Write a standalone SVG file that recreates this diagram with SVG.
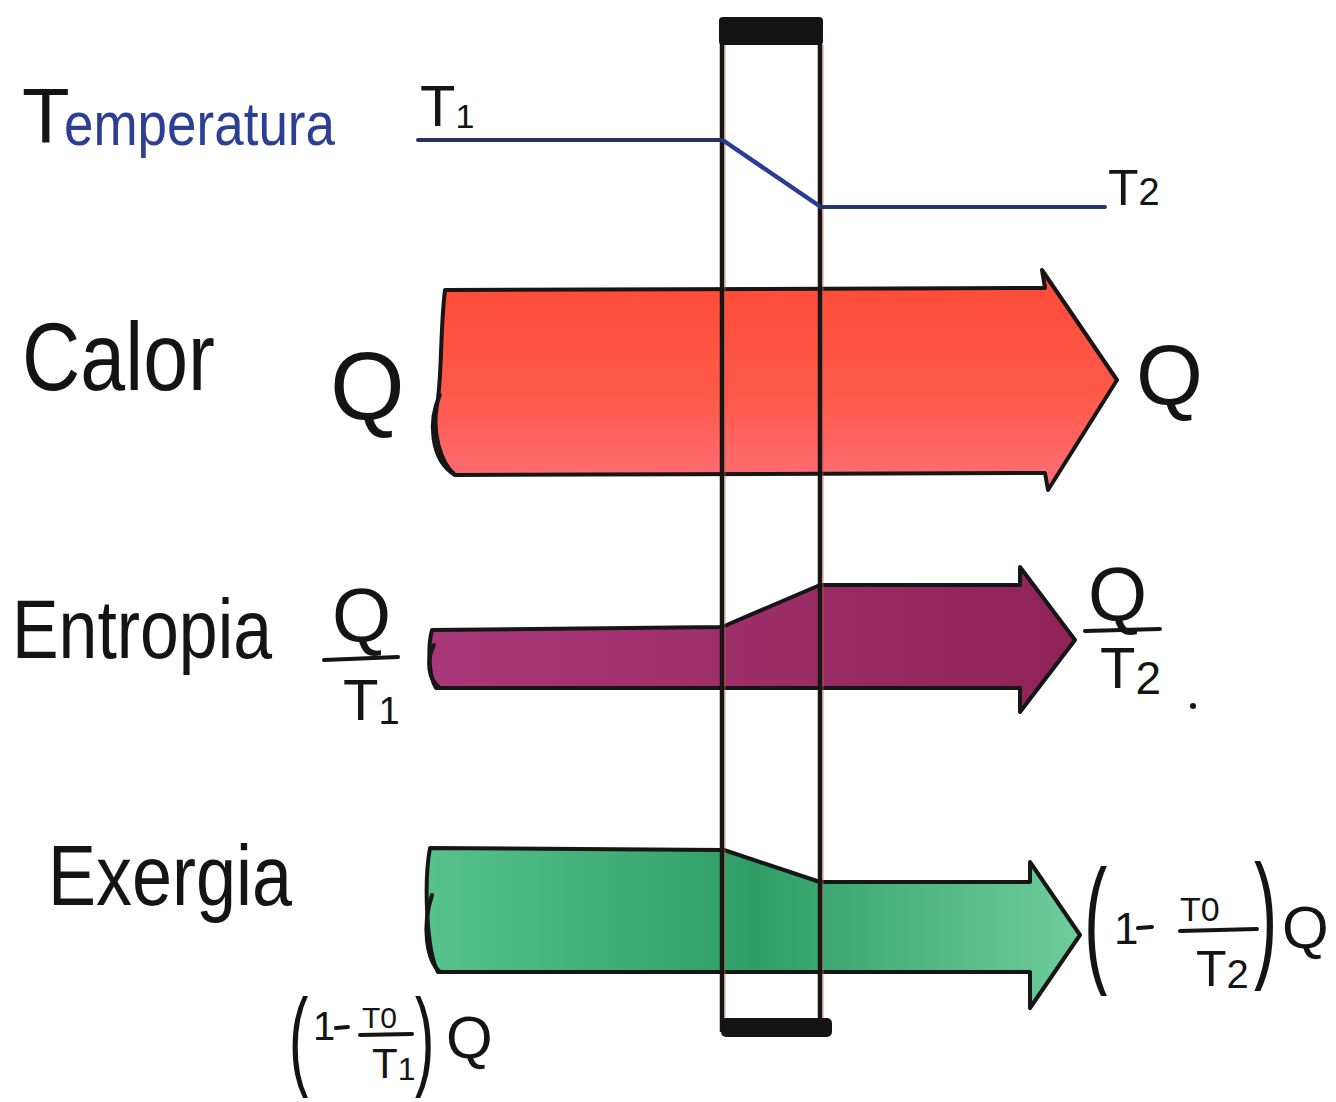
<svg xmlns="http://www.w3.org/2000/svg" width="1336" height="1102" viewBox="0 0 1336 1102">
<defs>
<style>
.hw{font-family:"Liberation Sans","DejaVu Sans",sans-serif;fill:#141414;}
.blue{fill:#2c3f94;}
.outline{stroke:#161616;stroke-width:4;stroke-linejoin:round;stroke-linecap:round;}
.wall{stroke:#1a1414;stroke-width:4.5;fill:none;}
.bar{stroke:#141414;stroke-width:4;stroke-linecap:round;}
</style>
<linearGradient id="gRed" x1="0" y1="0" x2="0" y2="1">
<stop offset="0" stop-color="#ff4a36"/>
<stop offset="0.6" stop-color="#ff5a4c"/>
<stop offset="1" stop-color="#ff6f78"/>
</linearGradient>
<linearGradient id="gPurple" x1="0" y1="0" x2="1" y2="0">
<stop offset="0" stop-color="#a93878"/>
<stop offset="1" stop-color="#8f2358"/>
</linearGradient>
<linearGradient id="gGreen" x1="0" y1="0" x2="1" y2="0">
<stop offset="0" stop-color="#57c28c"/>
<stop offset="0.5" stop-color="#2f9e66"/>
<stop offset="1" stop-color="#6fcd9c"/>
</linearGradient>
</defs>
<rect width="1336" height="1102" fill="#ffffff"/>

<!-- Row labels -->
<g id="label-temperatura">
<text class="hw" x="22" y="143" font-size="78">T</text>
<text class="hw blue" x="64" y="145" font-size="62" textLength="271" lengthAdjust="spacingAndGlyphs">emperatura</text>
</g>
<g id="label-calor">
<text class="hw" x="22" y="390" font-size="96" textLength="193" lengthAdjust="spacingAndGlyphs">Calor</text>
</g>
<g id="label-entropia">
<text class="hw" x="12" y="658" font-size="84" textLength="260" lengthAdjust="spacingAndGlyphs">Entropia</text>
</g>
<g id="label-exergia">
<text class="hw" x="48" y="905" font-size="86" textLength="244" lengthAdjust="spacingAndGlyphs">Exergia</text>
</g>

<!-- Heat arrow -->
<g id="arrow-calor">
<path class="outline" fill="url(#gRed)" d="M445,290 L1045,288 L1042,270 L1117,380 L1048,490 L1045,473 L455,475 C440,462 432,432 437,405 C442,380 440,330 445,290 Z"/>
<path class="outline" fill="none" d="M440,395 C428,420 430,460 455,475"/>
</g>

<!-- Entropy arrow -->
<g id="arrow-entropia">
<path class="outline" fill="url(#gPurple)" d="M432,630 L722,627 L820,585 L1020,585 L1020,567 L1075,640 L1020,712 L1020,688 L436,688 C428,675 428,645 432,630 Z"/>
<path class="outline" fill="none" d="M434,645 C426,660 428,680 440,688"/>
</g>

<!-- Exergy arrow -->
<g id="arrow-exergia">
<path class="outline" fill="url(#gGreen)" d="M430,848 L724,850 L820,882 L1030,882 L1030,862 L1080,935 L1030,1008 L1030,972 L438,972 C426,950 424,880 430,848 Z"/>
<path class="outline" fill="none" d="M432,895 C422,925 426,960 440,972"/>
</g>

<!-- Wall -->
<g id="wall">
<line class="wall" x1="722" y1="20" x2="722" y2="1032"/>
<line class="wall" x1="820" y1="20" x2="820" y2="1032"/>
<line x1="725" y1="45" x2="725" y2="1020" stroke="#b86a50" stroke-width="1.2" opacity="0.6"/>
<line x1="823" y1="45" x2="823" y2="1020" stroke="#b86a50" stroke-width="1.2" opacity="0.6"/>
<rect x="719" y="17" width="104" height="28" rx="4" fill="#141414"/>
<rect x="721" y="1018" width="111" height="19" rx="5" fill="#141414"/>
</g>

<!-- Temperature profile -->
<g id="temperature-line" fill="none" stroke-linecap="round">
<line x1="418" y1="140" x2="722" y2="140" stroke="#253266" stroke-width="4"/>
<line x1="724" y1="141" x2="818" y2="205" stroke="#2a3d96" stroke-width="4.5"/>
<line x1="820" y1="207" x2="1105" y2="207" stroke="#25356f" stroke-width="4"/>
</g>

<!-- Value labels -->
<g id="label-T1">
<text class="hw" x="420" y="126" font-size="58">T<tspan font-size="34" dy="2">1</tspan></text>
</g>
<g id="label-T2">
<text class="hw" x="1108" y="205" font-size="50">T<tspan font-size="38" dy="0">2</tspan></text>
</g>
<g id="label-Q-in">
<text class="hw" x="330" y="420" font-size="96">Q</text>
</g>
<g id="label-Q-out">
<text class="hw" x="1136" y="405" font-size="86">Q</text>
</g>
<g id="label-S-in">
<text class="hw" x="332" y="641" font-size="76">Q</text>
<line class="bar" x1="324" y1="660" x2="398" y2="657"/>
<text class="hw" x="343" y="720" font-size="58">T<tspan font-size="38" dy="4">1</tspan></text>
</g>
<g id="label-S-out">
<text class="hw" x="1088" y="620" font-size="76">Q</text>
<line class="bar" x1="1085" y1="631" x2="1160" y2="629"/>
<text class="hw" x="1100" y="688" font-size="58">T<tspan font-size="46" dy="6">2</tspan></text>
<circle cx="1193" cy="706" r="3" fill="#141414"/>
</g>
<g id="label-X-out">
<text class="hw" font-size="70" transform="translate(1084,967) scale(1,2)">(</text>
<text class="hw" x="1114" y="944" font-size="44">1</text>
<line class="bar" x1="1138" y1="928" x2="1152" y2="927"/>
<text class="hw" x="1180" y="921" font-size="34">T0</text>
<line class="bar" x1="1180" y1="931" x2="1257" y2="929"/>
<text class="hw" x="1196" y="986" font-size="50">T<tspan font-size="40" dy="2">2</tspan></text>
<text class="hw" font-size="70" transform="translate(1254,962) scale(1,2)">)</text>
<text class="hw" x="1282" y="948" font-size="60">Q</text>
</g>
<g id="label-X-in">
<text class="hw" font-size="58" transform="translate(289,1075) scale(1,1.9)">(</text>
<text class="hw" x="313" y="1040" font-size="40">1</text>
<line class="bar" x1="336" y1="1028" x2="348" y2="1027"/>
<text class="hw" x="362" y="1028" font-size="30">T0</text>
<line class="bar" x1="360" y1="1035" x2="412" y2="1034"/>
<text class="hw" x="372" y="1078" font-size="42">T<tspan font-size="32" dy="2">1</tspan></text>
<text class="hw" font-size="58" transform="translate(415,1075) scale(1,1.9)">)</text>
<text class="hw" x="446" y="1058" font-size="60">Q</text>
</g>
</svg>
